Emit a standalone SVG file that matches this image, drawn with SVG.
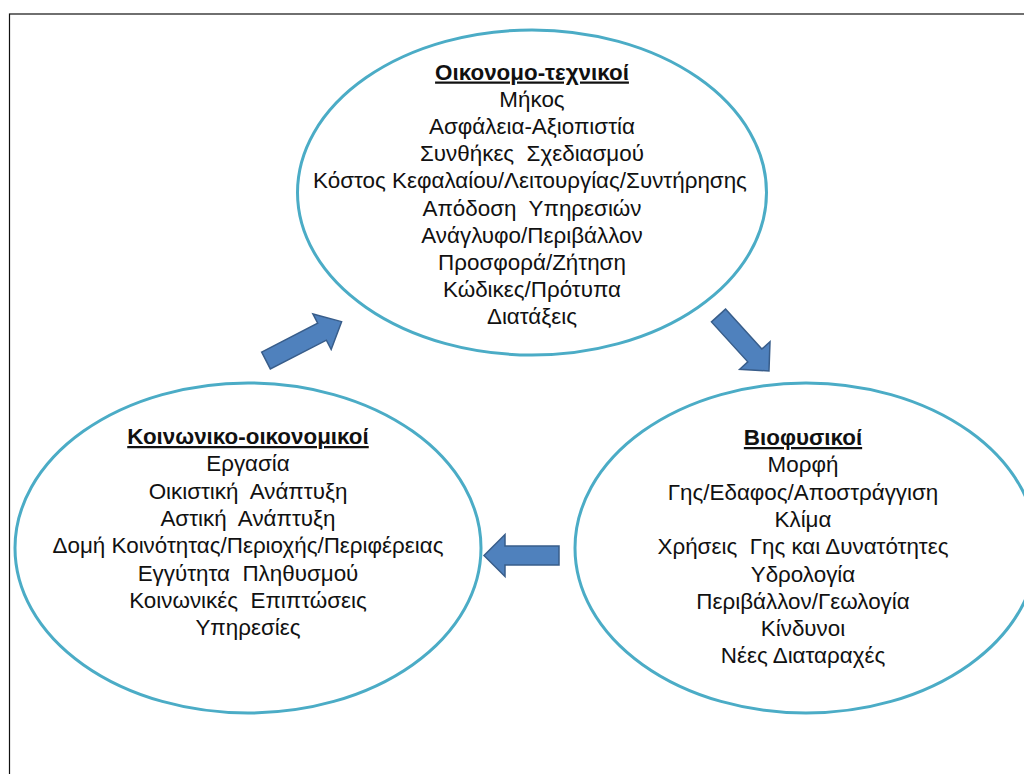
<svg xmlns="http://www.w3.org/2000/svg" width="1024" height="774" viewBox="0 0 1024 774">
<style>
.ell{fill:#fff;stroke:#4BACC6;stroke-width:3}
.t{font-family:"Liberation Sans",Arial,sans-serif;font-size:22.4px;fill:#111;text-anchor:middle;white-space:pre}
.h{font-weight:bold;text-decoration:underline}
.arr{fill:#4F81BD;stroke:#385D8A;stroke-width:1.5;stroke-linejoin:miter}
</style>
<rect x="0" y="0" width="1024" height="774" fill="#fff"/>
<rect x="9.5" y="14" width="1100" height="900" fill="none" stroke="#111" stroke-width="1.2"/>
<g id="node-top">
<ellipse class="ell" cx="532" cy="192.5" rx="234.5" ry="162.5"/>
<text class="t" x="532" y="79.5"><tspan class="h" x="532">Οικονομο-τεχνικοί</tspan><tspan x="532" dy="27.2">Μήκος</tspan><tspan x="532" dy="27.2">Ασφάλεια-Αξιοπιστία</tspan><tspan x="532" dy="27.2">Συνθήκες  Σχεδιασμού</tspan><tspan x="530" dy="27.2">Κόστος Κεφαλαίου/Λειτουργίας/Συντήρησης</tspan><tspan x="532" dy="27.2">Απόδοση  Υπηρεσιών</tspan><tspan x="532" dy="27.2">Ανάγλυφο/Περιβάλλον</tspan><tspan x="532" dy="27.2">Προσφορά/Ζήτηση</tspan><tspan x="532" dy="27.2">Κώδικες/Πρότυπα</tspan><tspan x="532" dy="27.2">Διατάξεις</tspan></text>
</g>
<g id="node-left">
<ellipse class="ell" cx="248" cy="548" rx="233" ry="165"/>
<text class="t" x="248" y="444"><tspan class="h" x="248">Κοινωνικο-οικονομικοί</tspan><tspan x="248" dy="27.3">Εργασία</tspan><tspan x="248" dy="27.3">Οικιστική  Ανάπτυξη</tspan><tspan x="248" dy="27.3">Αστική  Ανάπτυξη</tspan><tspan x="248" dy="27.3">Δομή Κοινότητας/Περιοχής/Περιφέρειας</tspan><tspan x="248" dy="27.3">Εγγύτητα  Πληθυσμού</tspan><tspan x="248" dy="27.3">Κοινωνικές  Επιπτώσεις</tspan><tspan x="248" dy="27.3">Υπηρεσίες</tspan></text>
</g>
<g id="node-right">
<ellipse class="ell" cx="806" cy="548" rx="231" ry="165"/>
<text class="t" x="803" y="445"><tspan class="h" x="803">Βιοφυσικοί</tspan><tspan x="803" dy="27.3">Μορφή</tspan><tspan x="803" dy="27.3">Γης/Εδαφος/Αποστράγγιση</tspan><tspan x="803" dy="27.3">Κλίμα</tspan><tspan x="803" dy="27.3">Χρήσεις  Γης και Δυνατότητες</tspan><tspan x="803" dy="27.3">Υδρολογία</tspan><tspan x="803" dy="27.3">Περιβάλλον/Γεωλογία</tspan><tspan x="803" dy="27.3">Κίνδυνοι</tspan><tspan x="803" dy="27.3">Νέες Διαταραχές</tspan></text>
</g>
<g id="connectors">
<path class="arr" transform="translate(266,360.5) rotate(-27.2)" d="M0,-9.5 L63,-9.5 L63,-20 L85,0 L63,20 L63,9.5 L0,9.5 Z"/>
<path class="arr" transform="translate(718.5,315.5) rotate(47.7)" d="M0,-9.5 L54,-9.5 L54,-20.5 L75,0 L54,20.5 L54,9.5 L0,9.5 Z"/>
<path class="arr" transform="translate(559,555.5) rotate(180)" d="M0,-9.5 L54,-9.5 L54,-21 L75,0 L54,21 L54,9.5 L0,9.5 Z"/>
</g>
</svg>
